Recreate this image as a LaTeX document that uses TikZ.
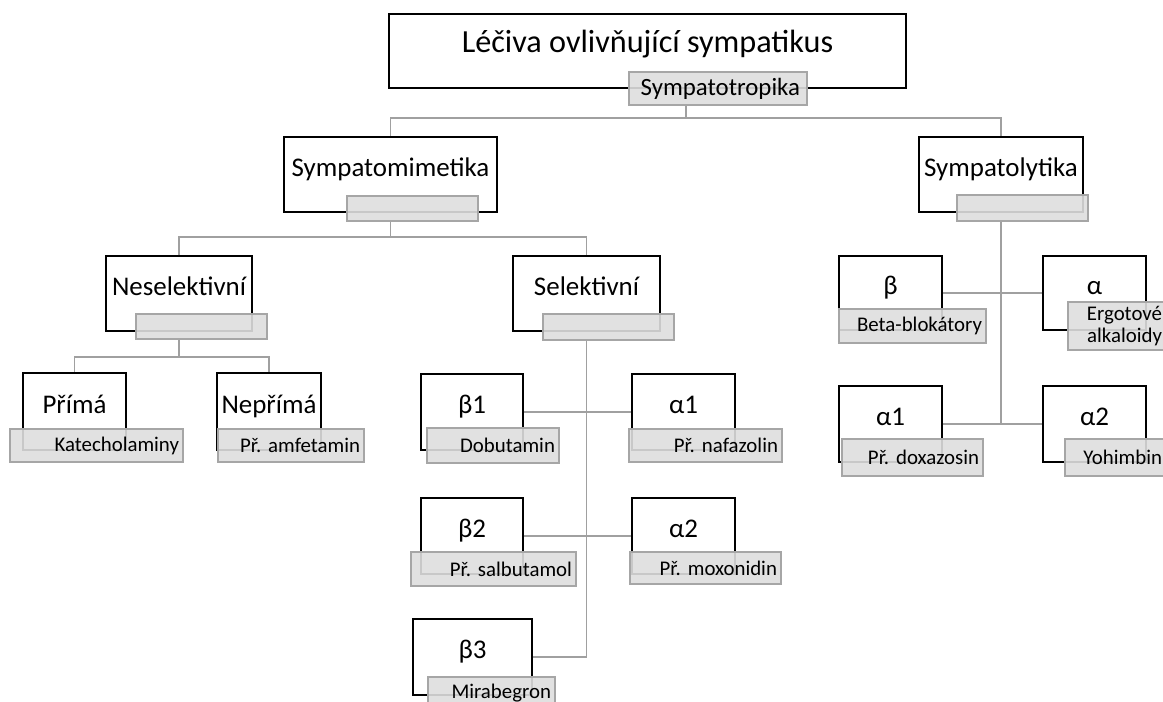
\documentclass[tikz,border=0pt]{standalone}
\usepackage{fontspec}
\setmainfont{Carlito}
\frenchspacing
\newcommand{\pxu}{0.3mm}
\definecolor{boxgrey}{HTML}{DEDEDE}
\definecolor{edgegrey}{HTML}{A6A6A6}
\definecolor{linkgrey}{HTML}{A0A0A0}

\begin{document}
\begin{tikzpicture}[x=0.3mm, y=-0.3mm,
	wbox/.style 2 args={draw=black, fill=white, line width=1.3pt, inner sep=0pt, minimum width=#1*\pxu, minimum height=#2*\pxu, text height=0.7em, text depth=0.36em, font=\fontsize{23}{26}\selectfont},
	gbox/.style 2 args={draw=edgegrey, fill=boxgrey, fill opacity=0.9, text opacity=1, line width=1.1pt, inner ysep=0pt, inner xsep=4*\pxu, minimum width=#1*\pxu, minimum height=#2*\pxu, text width=(#1-8)*\pxu, align=right, font=\fontsize{17.8}{18.5}\selectfont},
	link/.style={draw=linkgrey, line width=1.5pt}]
		\useasboundingbox (0,0) rectangle (1163,702);
		\clip (0,0) rectangle (1163,702);
		% top
		\node[wbox={517}{74}, font=\fontsize{27.5}{30}\selectfont] (leciva) at (647.5,51) {Léčiva ovlivňující sympatikus};
		\node[gbox={178}{33}, inner xsep=7*\pxu, text width=164*\pxu, font=\fontsize{21.2}{24}\selectfont] (tropika) at (718,88.5) {Sympatotropika};
		\node[wbox={213}{75}] (mimetika) at (390.5,174.5) {Sympatomimetika};
		\node[gbox={131}{25}] (mimgrey) at (412.5,208.5) {};
		\node[wbox={164}{75}] (lytika) at (1001,174.5) {Sympatolytika};
		\node[gbox={131}{26}] (lygrey) at (1022.5,208) {};
		% sympatomimetika
		\node[wbox={146}{75}] (nesel) at (179,293.5) {Neselektivní};
		\node[gbox={131}{25}] (neselgrey) at (201.5,326.5) {};
		\node[wbox={147}{75}] (sel) at (586.5,293.5) {Selektivní};
		\node[gbox={131}{26}] (selgrey) at (608.5,327) {};
		\node[wbox={103}{77}] (prima) at (74.5,411.5) {Přímá};
		\node[gbox={173}{33}] (primagrey) at (96.5,445.5) {Katecholaminy};
		\node[wbox={104}{77}] (neprima) at (269,411.5) {Nepřímá};
		\node[gbox={146}{33}] (neprimagrey) at (291,445.5) {Př. amfetamin};
		\node[wbox={102}{76}] (beta1) at (472,412) {β1};
		\node[gbox={132}{35}] (beta1grey) at (493,445.5) {Dobutamin};
		\node[wbox={103}{76}] (alfa1) at (683.5,412) {α1};
		\node[gbox={153}{33}] (alfa1grey) at (705.5,445.5) {Př. nafazolin};
		\node[wbox={102}{76}] (beta2) at (472,536) {β2};
		\node[gbox={165}{34}] (beta2grey) at (493.5,569) {Př. salbutamol};
		\node[wbox={103}{76}] (alfa2) at (683.5,536) {α2};
		\node[gbox={151}{32}] (alfa2grey) at (705.5,568) {Př. moxonidin};
		\node[wbox={119}{76}] (beta3) at (472.5,657) {β3};
		\node[gbox={127}{33}] (beta3grey) at (491.5,693.5) {Mirabegron};
		% sympatolytika
		\node[wbox={103}{74}] (beta) at (890.5,293) {β};
		\node[gbox={147}{34}] (betagrey) at (912.5,326) {Beta-blokátory};
		\node[wbox={103}{74}] (alfa) at (1094.5,293) {α};
		\node[gbox={98}{48}] (alfagrey) at (1117,326) {Ergotové\\alkaloidy};
		\node[wbox={103}{76}] (lalfa1) at (890.5,424) {α1};
		\node[gbox={141}{37}] (lalfa1grey) at (912.5,457.5) {Př. doxazosin};
		\node[wbox={103}{76}] (lalfa2) at (1094.5,424) {α2};
		\node[gbox={101}{37}] (lalfa2grey) at (1115.5,457.5) {Yohimbin};
		% connectors
		\coordinate (topbus) at (686,118);
		\draw[link] (tropika.south -| topbus) -- (topbus);
		\draw[link] (mimetika.north) |- (topbus) -| (lytika.north);
		\coordinate (mimbus) at (390.5,237);
		\draw[link] (mimetika.south |- mimgrey.south) -- (mimbus);
		\draw[link] (nesel.north) |- (mimbus) -| (sel.north);
		\coordinate (neselbus) at (179,357);
		\draw[link] (nesel.south |- neselgrey.south) -- (neselbus);
		\draw[link] (prima.north) |- (neselbus) -| (neprima.north);
		\draw[link] (sel.south |- selgrey.south) |- (beta3.east);
		\draw[link] (beta1.east) -- (alfa1.west);
		\draw[link] (beta2.east) -- (alfa2.west);
		\draw[link] (lytika.south |- lygrey.south) -- (lytika.south |- lalfa1.east);
		\draw[link] (beta.east) -- (alfa.west);
		\draw[link] (lalfa1.east) -- (lalfa2.west);
	\end{tikzpicture}
\end{document}
